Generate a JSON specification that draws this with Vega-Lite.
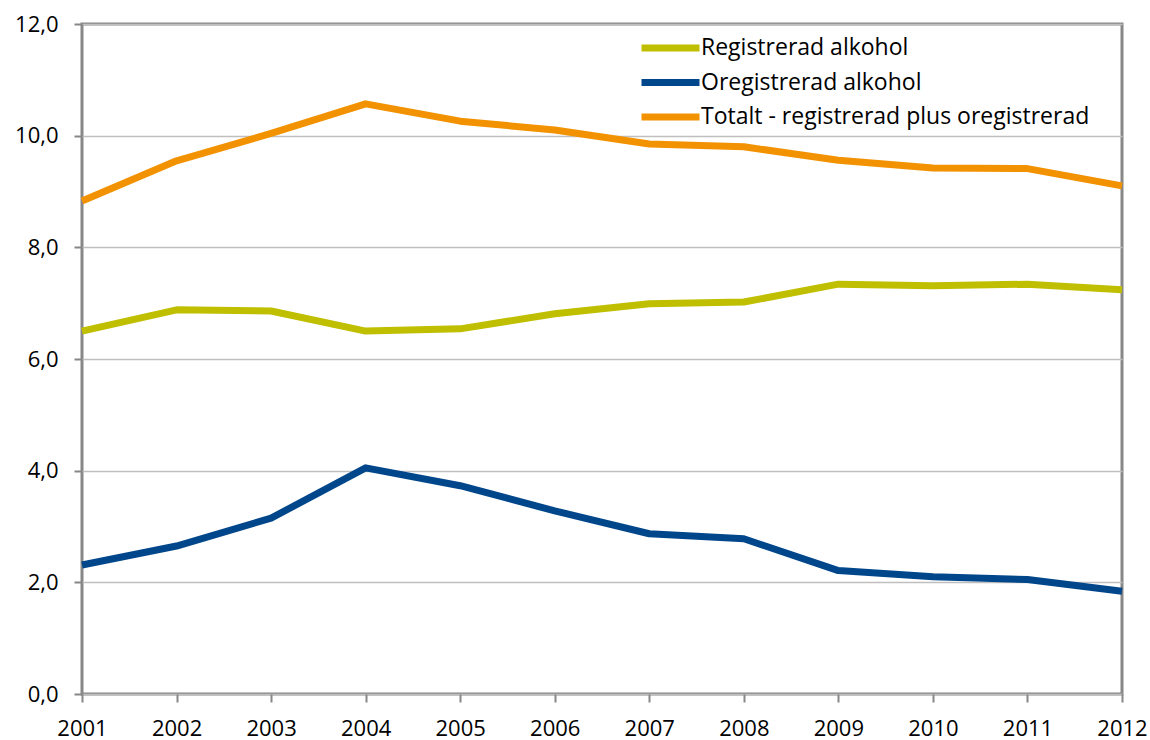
{
  "$schema": "https://vega.github.io/schema/vega-lite/v6.json",
  "width": 1040,
  "height": 670,
  "autosize": "none",
  "padding": {"left": 82, "top": 24, "right": 28, "bottom": 46},
  "background": "white",
  "config": {
    "font": "Open Sans",
    "view": {"stroke": "#878787", "strokeWidth": 3},
    "axis": {"labelFont": "Open Sans", "labelFontSize": 22, "labelColor": "#000000", "titleFont": "Open Sans"}
  },
  "data": {
    "values": [
      {"year": 2001, "serie": "Registrerad alkohol", "value": 6.50},
      {"year": 2002, "serie": "Registrerad alkohol", "value": 6.88},
      {"year": 2003, "serie": "Registrerad alkohol", "value": 6.86},
      {"year": 2004, "serie": "Registrerad alkohol", "value": 6.50},
      {"year": 2005, "serie": "Registrerad alkohol", "value": 6.54},
      {"year": 2006, "serie": "Registrerad alkohol", "value": 6.81},
      {"year": 2007, "serie": "Registrerad alkohol", "value": 6.99},
      {"year": 2008, "serie": "Registrerad alkohol", "value": 7.02},
      {"year": 2009, "serie": "Registrerad alkohol", "value": 7.34},
      {"year": 2010, "serie": "Registrerad alkohol", "value": 7.31},
      {"year": 2011, "serie": "Registrerad alkohol", "value": 7.34},
      {"year": 2012, "serie": "Registrerad alkohol", "value": 7.24},
      {"year": 2001, "serie": "Oregistrerad alkohol", "value": 2.31},
      {"year": 2002, "serie": "Oregistrerad alkohol", "value": 2.65},
      {"year": 2003, "serie": "Oregistrerad alkohol", "value": 3.15},
      {"year": 2004, "serie": "Oregistrerad alkohol", "value": 4.05},
      {"year": 2005, "serie": "Oregistrerad alkohol", "value": 3.73},
      {"year": 2006, "serie": "Oregistrerad alkohol", "value": 3.28},
      {"year": 2007, "serie": "Oregistrerad alkohol", "value": 2.87},
      {"year": 2008, "serie": "Oregistrerad alkohol", "value": 2.78},
      {"year": 2009, "serie": "Oregistrerad alkohol", "value": 2.21},
      {"year": 2010, "serie": "Oregistrerad alkohol", "value": 2.10},
      {"year": 2011, "serie": "Oregistrerad alkohol", "value": 2.05},
      {"year": 2012, "serie": "Oregistrerad alkohol", "value": 1.84},
      {"year": 2001, "serie": "Totalt - registrerad plus oregistrerad", "value": 8.83},
      {"year": 2002, "serie": "Totalt - registrerad plus oregistrerad", "value": 9.55},
      {"year": 2003, "serie": "Totalt - registrerad plus oregistrerad", "value": 10.04},
      {"year": 2004, "serie": "Totalt - registrerad plus oregistrerad", "value": 10.57},
      {"year": 2005, "serie": "Totalt - registrerad plus oregistrerad", "value": 10.26},
      {"year": 2006, "serie": "Totalt - registrerad plus oregistrerad", "value": 10.10},
      {"year": 2007, "serie": "Totalt - registrerad plus oregistrerad", "value": 9.85},
      {"year": 2008, "serie": "Totalt - registrerad plus oregistrerad", "value": 9.80},
      {"year": 2009, "serie": "Totalt - registrerad plus oregistrerad", "value": 9.56},
      {"year": 2010, "serie": "Totalt - registrerad plus oregistrerad", "value": 9.42},
      {"year": 2011, "serie": "Totalt - registrerad plus oregistrerad", "value": 9.41},
      {"year": 2012, "serie": "Totalt - registrerad plus oregistrerad", "value": 9.10}
    ]
  },
  "mark": {"type": "line", "strokeWidth": 7, "strokeJoin": "round", "strokeCap": "butt"},
  "encoding": {
    "x": {
      "field": "year", "type": "quantitative",
      "scale": {"domain": [2001, 2012], "nice": false, "zero": false},
      "axis": {
        "title": null, "values": [2001,2002,2003,2004,2005,2006,2007,2008,2009,2010,2011,2012],
        "format": "d", "grid": false, "domain": false,
        "tickColor": "#878787", "tickWidth": 2, "tickSize": 8, "labelPadding": 16,
        "labelFlush": false
      }
    },
    "y": {
      "field": "value", "type": "quantitative",
      "scale": {"domain": [0, 12], "nice": false},
      "axis": {
        "title": null, "values": [0,2,4,6,8,10,12],
        "labelExpr": "replace(format(datum.value, '.1f'), '.', ',')",
        "grid": true, "gridColor": "#BFBFBF", "gridWidth": 1.3, "domain": false,
        "tickColor": "#878787", "tickWidth": 2, "tickSize": 8, "labelPadding": 16
      }
    },
    "color": {
      "field": "serie", "type": "nominal",
      "scale": {
        "domain": ["Registrerad alkohol", "Oregistrerad alkohol", "Totalt - registrerad plus oregistrerad"],
        "range": ["#BFBF00", "#00468B", "#F39200"]
      },
      "legend": {
        "title": null, "orient": "none", "legendX": 570.5, "legendY": 6,
        "direction": "vertical", "padding": 0,
        "symbolType": "M-2,0H2", "symbolSize": 841, "symbolStrokeWidth": 7,
        "labelFont": "Open Sans", "labelFontSize": 23, "labelColor": "#000000",
        "labelOffset": 12.5, "rowPadding": 2.5, "labelLimit": 600
      }
    }
  }
}
